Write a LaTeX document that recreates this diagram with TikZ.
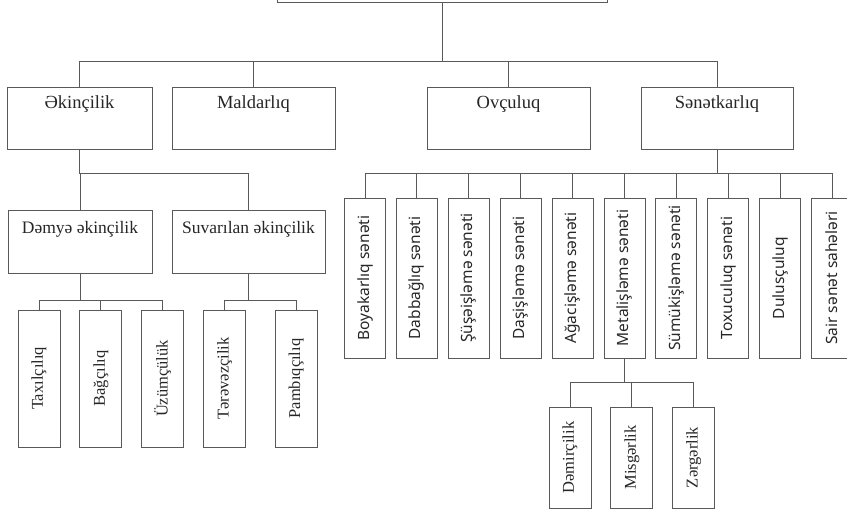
\documentclass[tikz,border=0pt]{standalone}
\usepackage{fontspec}
\setmainfont{Liberation Serif}
\newfontfamily\craftfont{Noto Sans}
\usetikzlibrary{positioning}

\begin{document}
\begin{tikzpicture}[
  x=1pt, y=-1pt,
  line width=0.9pt,
  box/.style={draw=black!65, inner sep=0pt, text=black!85},
  head/.style={box, minimum width=152pt, text height=22pt, text depth=40pt, font=\fontsize{18.5}{21}\selectfont},
  sub/.style={box, text height=23pt, text depth=40pt, font=\fontsize{17.5}{20}\selectfont},
  leaf/.style={box, minimum width=42pt, minimum height=137pt, font=\fontsize{16.5}{19}\selectfont},
  metal/.style={leaf, minimum height=101pt},
  craft/.style={box, minimum width=41pt, minimum height=160pt, font=\craftfont\fontsize{15.5}{18}\selectfont},
  link/.style={draw=black!65}
]
\useasboundingbox (0,0) rectangle (847,511);

\node[box, minimum width=330pt, minimum height=40pt] (top) at (442,-18) {};

\node[head, minimum width=145pt] (ake) at (79.5,118) {Əkinçilik};
\node[head, minimum width=163pt] (mal) at (253.5,118) {Maldarlıq};
\node[head, minimum width=163pt] (ovc) at (508.5,118) {Ovçuluq};
\node[head] (sen) at (717,118) {Sənətkarlıq};

\node[sub, minimum width=144pt] (dem) at (80,241.5) {Dəmyə əkinçilik};
\node[sub, minimum width=153pt] (suv) at (248.5,241.5) {Suvarılan əkinçilik};

\node[leaf] (tax) at (39,378.5) {\rotatebox{90}{Taxılçılıq}};
\node[leaf, right=19pt of tax] (bag) {\rotatebox{90}{Bağçılıq}};
\node[leaf, right=19pt of bag] (uzu) {\rotatebox{90}{Üzümçülük}};
\node[leaf, right=19pt of uzu] (ter) {\rotatebox{90}{Tərəvəzçilik}};
\node[leaf, right=28.5pt of ter] (pam) {\rotatebox{90}{Pambıqçılıq}};

\node[craft] (boy) at (365,278) {\rotatebox{90}{Boyakarlıq sənəti}};
\node[craft, right=10pt of boy] (dab) {\rotatebox{90}{Dabbağlıq sənəti}};
\node[craft, right=10pt of dab] (sus) {\rotatebox{90}{Şüşəişləmə sənəti}};
\node[craft, right=10pt of sus] (das) {\rotatebox{90}{Daşişləmə sənəti}};
\node[craft, right=10pt of das] (aga) {\rotatebox{90}{Ağacişləmə sənəti}};
\node[craft, right=10pt of aga] (met) {\rotatebox{90}{Metalişləmə sənəti}};
\node[craft, right=10pt of met] (sum) {\rotatebox{90}{Sümükişləmə sənəti}};
\node[craft, right=10pt of sum] (tox) {\rotatebox{90}{Toxuculuq sənəti}};
\node[craft, right=10pt of tox] (dul) {\rotatebox{90}{Dulusçuluq}};
\node[craft, right=10pt of dul] (sai) {\rotatebox{90}{Sair sənət sahələri}};

\node[metal] (dmr) at (570,457.5) {\rotatebox{90}{Dəmirçilik}};
\node[metal, right=19pt of dmr] (mis) {\rotatebox{90}{Misgərlik}};
\node[metal, right=19pt of mis] (zer) {\rotatebox{90}{Zərgərlik}};

\foreach \n in {ake,mal,ovc,sen}
  \draw[link] (top.south) -- ++(0,59) -| (\n.north);
\foreach \n in {dem,suv}
  \draw[link] (ake.south) -- ++(0,24) -| (\n.north);
\foreach \n in {tax,bag,uzu}
  \draw[link] (dem.south) -- ++(0,27) -| (\n.north);
\foreach \n in {ter,pam}
  \draw[link] (suv.south) -- ++(0,27) -| (\n.north);
\foreach \n in {boy,dab,sus,das,aga,met,sum,tox,dul,sai}
  \draw[link] (sen.south) -- ++(0,24) -| (\n.north);
\foreach \n in {dmr,mis,zer}
  \draw[link] (met.south) -- ++(0,24) -| (\n.north);

\end{tikzpicture}
\end{document}
